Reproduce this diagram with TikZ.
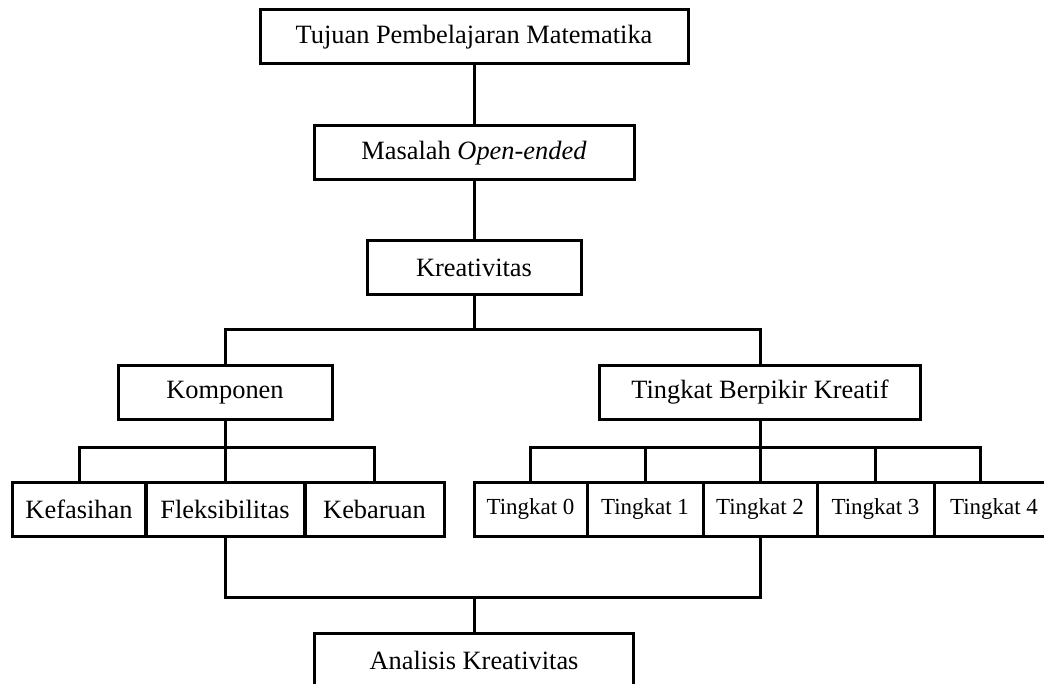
\documentclass[tikz,border=0pt]{standalone}
\usepackage{fontspec}
\setmainfont{Liberation Serif}
\usepackage{tikz}
\tikzstyle{line} = [line width=3pt, color=black]
\tikzstyle{box} = [rectangle, draw=black, line width=3pt, minimum height=54pt, inner sep=0pt, text centered, font=\fontsize{26.4}{30}\selectfont]
\tikzstyle{tbox} = [box, font=\fontsize{23}{27}\selectfont]

\begin{document}
\begin{tikzpicture}[x=1pt, y=-1pt]
\clip (0,0) rectangle (1044,684);
% main chain
\node[box, minimum width=428pt] (tujuan) at (474,37) {Tujuan Pembelajaran Matematika};
\node[box, minimum width=320pt] (masalah) at (474,153) {Masalah \textit{Open-ended}};
\node[box, minimum width=214pt] (kreativitas) at (474,268) {Kreativitas};

% two branches
\node[box, minimum width=214pt, minimum height=53pt] (komponen) at (225,392.5) {Komponen};
\node[box, minimum width=321pt, minimum height=53pt] (tbk) at (760,392.5) {Tingkat Berpikir Kreatif};

% components
\node[box, minimum width=134pt] (kefasihan) at (79,509) {Kefasihan};
\node[box, minimum width=159pt] (fleksibilitas) at (225,509) {Fleksibilitas};
\node[box, minimum width=139pt] (kebaruan) at (374.5,509) {Kebaruan};

% levels
\node[tbox, minimum width=113pt] (t0) at (530.5,509) {Tingkat 0};
\node[tbox, minimum width=116pt] (t1) at (645,509) {Tingkat 1};
\node[tbox, minimum width=114pt] (t2) at (760,509) {Tingkat 2};
\node[tbox, minimum width=117pt] (t3) at (875.5,509) {Tingkat 3};
\node[tbox, minimum width=120pt] (t4) at (994,509) {Tingkat 4};

\node[box, minimum width=319pt] (analisis) at (474,660) {Analisis Kreativitas};

% connectors
\coordinate (kbar) at (474,330);
\coordinate (kompbar) at (225,447);
\coordinate (tbar) at (760,447);
\coordinate (abar) at (474,597);

\draw[line] (tujuan) -- (masalah);
\draw[line] (masalah) -- (kreativitas);
\draw[line] (kreativitas) -- (kbar);
\draw[line] (komponen) |- (kbar) -| (tbk);

\draw[line] (kefasihan) |- (kompbar) -| (kebaruan);
\draw[line] (komponen) -- (kompbar) -- (fleksibilitas);

\draw[line] (t0) |- (tbar) -| ([xshift=-14pt]t4.north);
\draw[line] (tbk) -- (tbar) -- (t2);
\draw[line] (t1) -- (t1 |- tbar);
\draw[line] (t3) -- (t3 |- tbar);

\draw[line] (fleksibilitas) |- (abar) -| (t2);
\draw[line] (abar) -- (analisis);
\end{tikzpicture}
\end{document}
